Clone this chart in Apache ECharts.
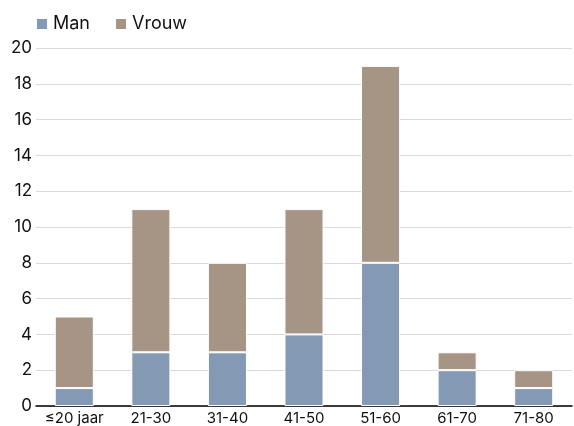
<!DOCTYPE html>
<html>
<head>
<meta charset="utf-8">
<script src="https://cdn.jsdelivr.net/npm/echarts@6/dist/echarts.min.js"></script>
<style>
  html, body { margin: 0; padding: 0; background: #fff; }
  #chart { width: 574px; height: 426px; }
</style>
</head>
<body>
<div id="chart"></div>
<script>
// leeftijdsgroepen
const categories = ['≤20 jaar', '21-30', '31-40', '41-50', '51-60', '61-70', '71-80'];
const manValues = [1, 3, 3, 4, 8, 2, 1];
const vrouwValues = [4, 8, 5, 7, 11, 1, 1];

const chart = echarts.init(document.getElementById('chart'));
chart.setOption({
  animation: false,
  textStyle: { fontFamily: 'Inter, sans-serif' },
  legend: {
    left: 30,
    top: 10,
    itemWidth: 12,
    itemHeight: 12,
    itemGap: 24,
    icon: 'rect',
    textStyle: { fontSize: 18, color: '#111' },
    data: ['Man', 'Vrouw']
  },
  grid: { left: 36, right: 2, top: 48, bottom: 18 },
  xAxis: {
    type: 'category',
    data: categories,
    axisLine: { lineStyle: { color: '#000', width: 1.5 } },
    axisTick: { show: false },
    axisLabel: { fontSize: 15, color: '#111', margin: 5 }
  },
  yAxis: {
    type: 'value',
    min: 0,
    max: 20,
    interval: 2,
    axisLine: { show: false },
    axisTick: { show: false },
    axisLabel: { fontSize: 17, color: '#111', margin: 4 },
    splitLine: { lineStyle: { color: '#d9d9d9' } }
  },
  series: [
    {
      name: 'Man',
      type: 'bar',
      stack: 'total',
      barWidth: '51%',
      data: manValues,
      itemStyle: { color: '#8499b3', borderColor: '#fff', borderWidth: 1 }
    },
    {
      name: 'Vrouw',
      type: 'bar',
      stack: 'total',
      data: vrouwValues,
      itemStyle: { color: '#a69485', borderColor: '#fff', borderWidth: 1 }
    }
  ]
});
</script>
</body>
</html>
